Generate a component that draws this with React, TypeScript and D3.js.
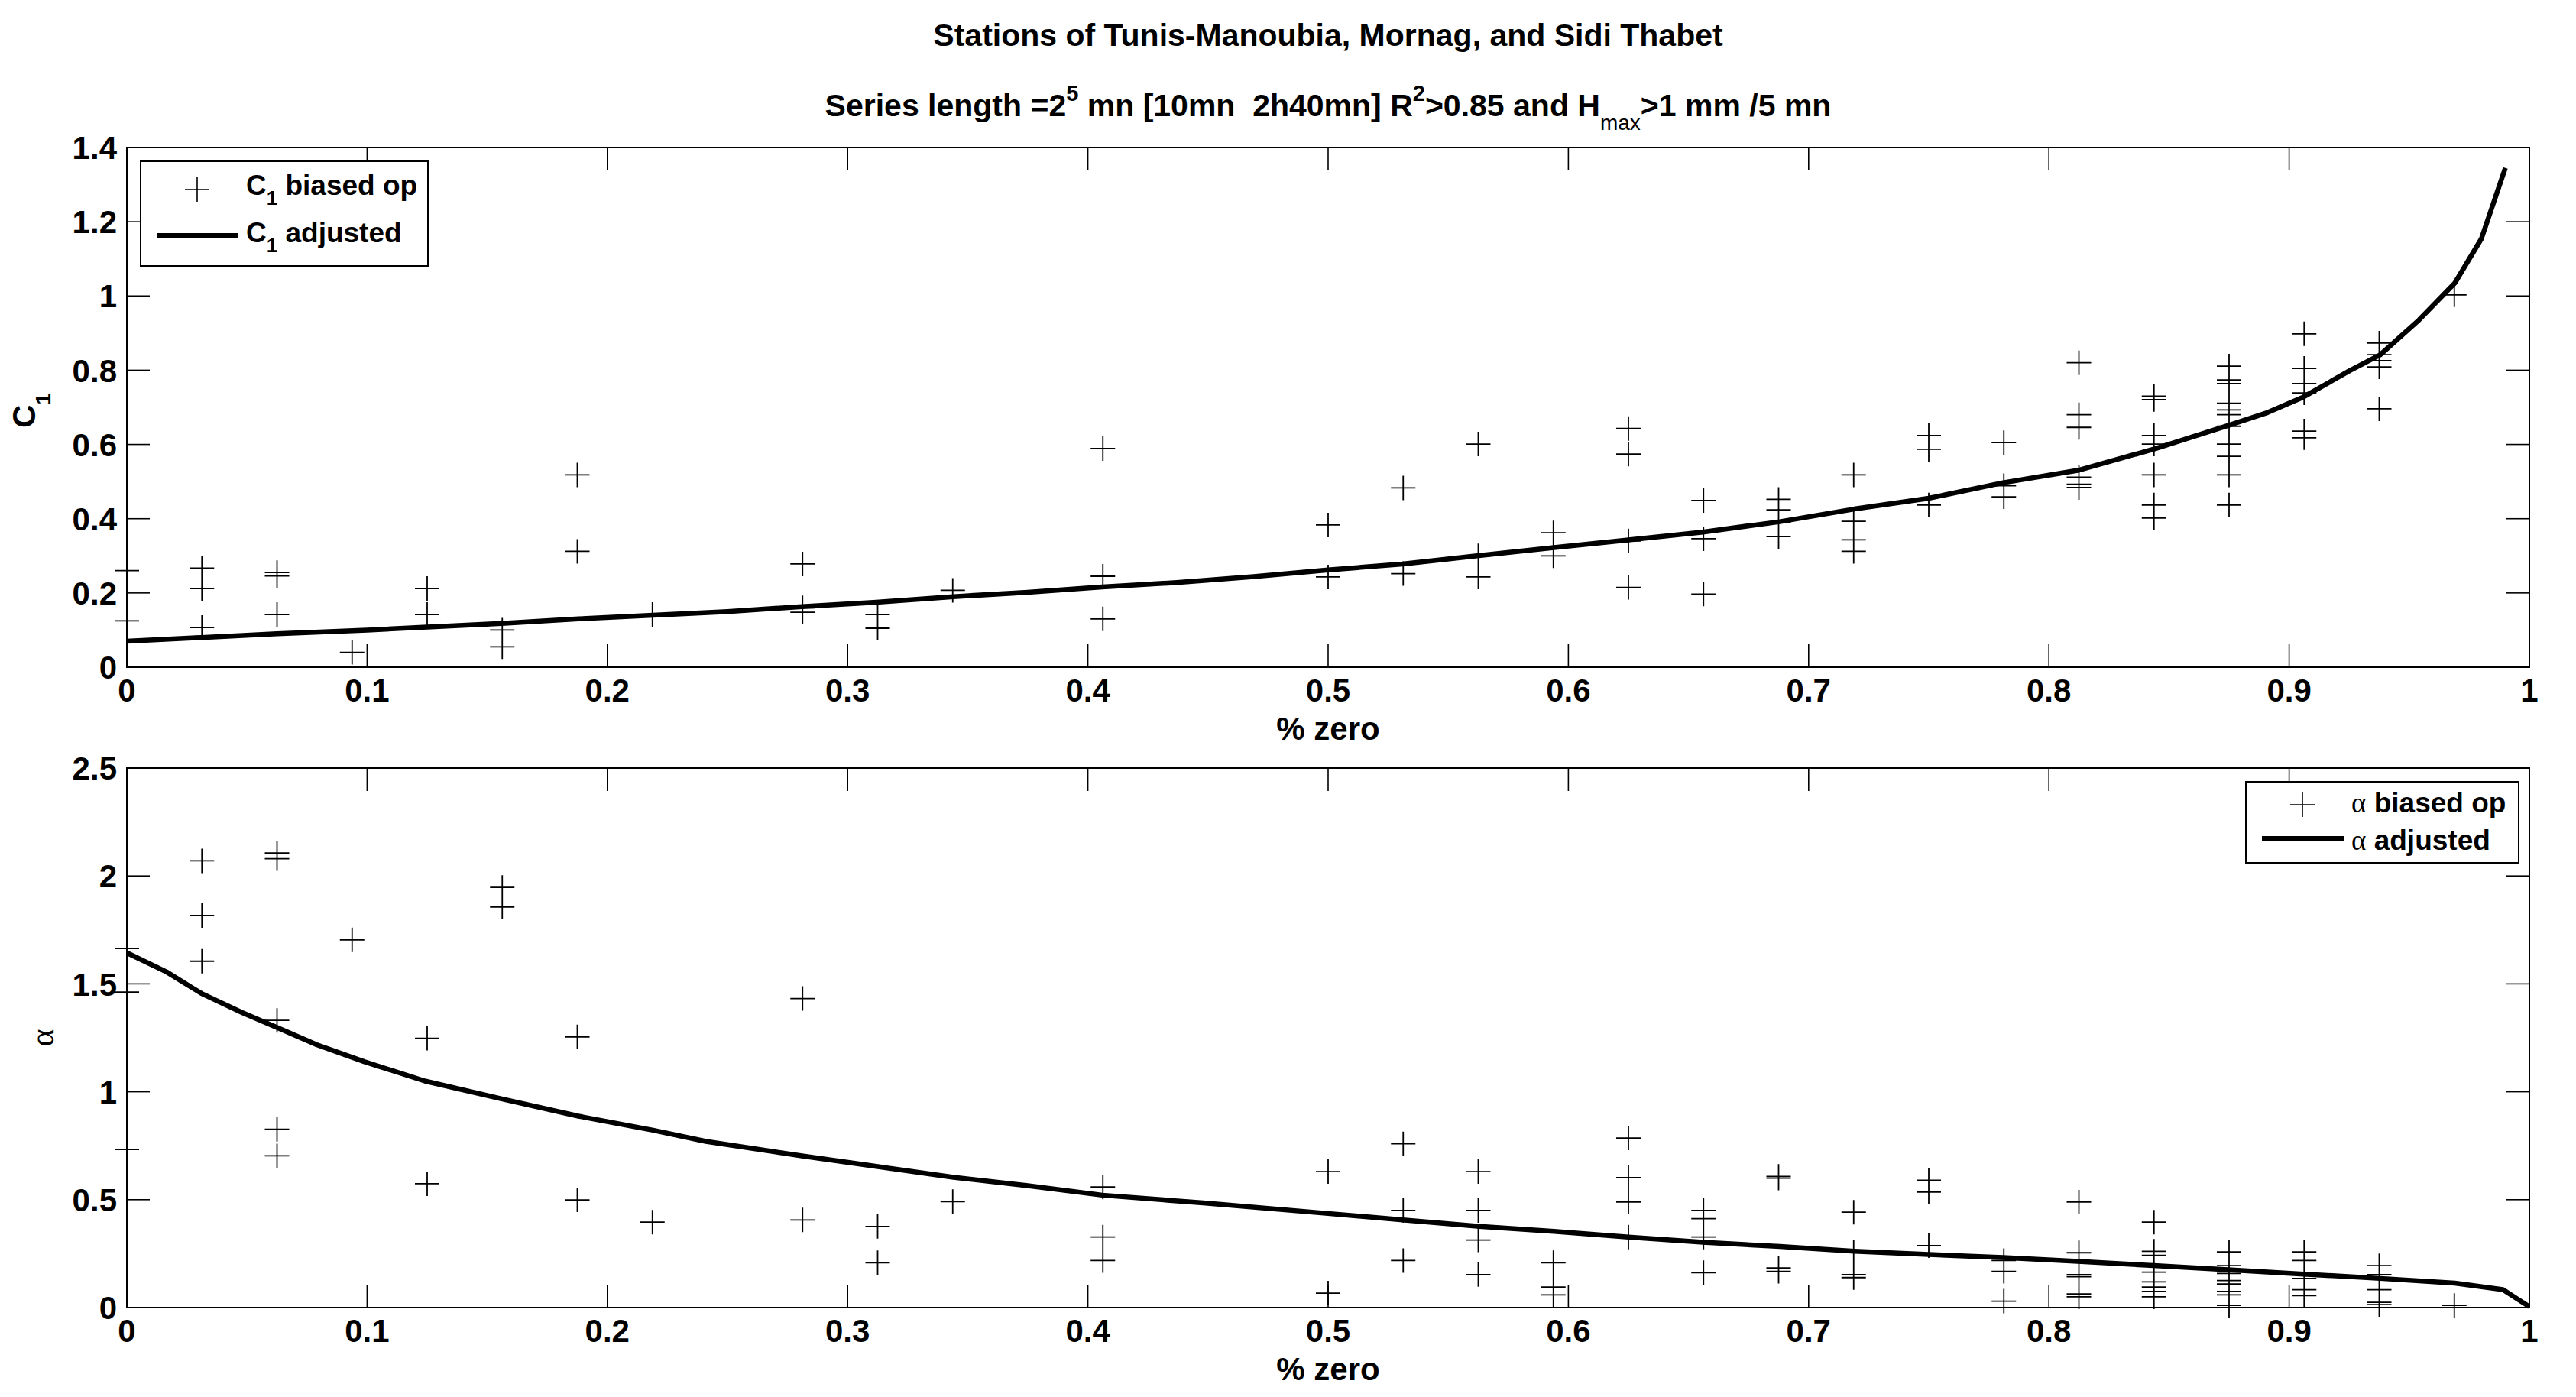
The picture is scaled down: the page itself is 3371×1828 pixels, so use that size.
import * as d3 from "d3";
import { useEffect } from "react";

// % zero classes (k / 32) that carry at least one event
const pctZero = [
  0, 0.03125, 0.0625, 0.09375, 0.125, 0.15625, 0.1875, 0.21875, 0.28125, 0.3125,
  0.34375, 0.40625, 0.5, 0.53125, 0.5625, 0.59375, 0.625, 0.65625, 0.6875, 0.71875,
  0.75, 0.78125, 0.8125, 0.84375, 0.875, 0.90625, 0.9375, 0.96875,
];

// C1 biased op values, one list per % zero class
const c1Biased = [
  [0.26, 0.125],
  [0.267, 0.212, 0.107],
  [0.255, 0.246, 0.142],
  [0.04],
  [0.212, 0.142],
  [0.1, 0.055],
  [0.518, 0.312],
  [0.142],
  [0.278, 0.16, 0.148],
  [0.142, 0.105],
  [0.207],
  [0.589, 0.245, 0.13],
  [0.383, 0.243],
  [0.483, 0.252],
  [0.601, 0.3, 0.243],
  [0.362, 0.3],
  [0.643, 0.574, 0.34, 0.215],
  [0.449, 0.346, 0.197],
  [0.452, 0.424, 0.39, 0.352],
  [0.518, 0.393, 0.343, 0.312],
  [0.624, 0.587, 0.437],
  [0.605, 0.489, 0.459],
  [0.82, 0.68, 0.646, 0.512, 0.493, 0.484],
  [0.73, 0.721, 0.624, 0.601, 0.518, 0.437, 0.402],
  [0.811, 0.774, 0.764, 0.711, 0.693, 0.68, 0.649, 0.601, 0.568, 0.518, 0.437],
  [0.898, 0.805, 0.764, 0.739, 0.636, 0.618],
  [0.873, 0.842, 0.826, 0.809, 0.696],
  [1.003],
];

// alpha biased op values, one list per % zero class
const alphaBiased = [
  [1.664, 1.462, 0.733],
  [2.07, 1.817, 1.605],
  [2.106, 2.08, 1.331, 0.826, 0.703],
  [1.704],
  [1.248, 0.574],
  [1.947, 1.856],
  [1.254, 0.499],
  [0.396],
  [1.432, 0.406],
  [0.376, 0.208],
  [0.491],
  [0.559, 0.327, 0.218],
  [0.63, 0.067],
  [0.759, 0.45, 0.218],
  [0.63, 0.45, 0.313, 0.153],
  [0.208, 0.095, 0.059],
  [0.786, 0.602, 0.489, 0.327],
  [0.45, 0.412, 0.327, 0.162],
  [0.608, 0.6, 0.184, 0.168],
  [0.442, 0.258, 0.153, 0.139],
  [0.59, 0.535, 0.287],
  [0.218, 0.168, 0.03],
  [0.489, 0.254, 0.153, 0.143, 0.063, 0.05],
  [0.396, 0.261, 0.242, 0.194, 0.164, 0.119, 0.095, 0.075, 0.05],
  [0.258, 0.194, 0.158, 0.125, 0.109, 0.075, 0.059, 0.01],
  [0.258, 0.218, 0.135, 0.083, 0.055],
  [0.194, 0.153, 0.083, 0.024, 0.014],
  [0.01],
];

// adjusted curves
const c1AdjX = [
  0, 0.031, 0.0625, 0.1, 0.125, 0.156, 0.188, 0.219, 0.25, 0.281, 0.312, 0.344, 0.375,
  0.406, 0.437, 0.469, 0.5, 0.531, 0.562, 0.594, 0.625, 0.656, 0.688, 0.719, 0.75,
  0.781, 0.812, 0.844, 0.875, 0.891, 0.906, 0.925, 0.938, 0.954, 0.969, 0.98, 0.99,
];
const c1AdjY = [
  0.07, 0.08, 0.09, 0.1, 0.108, 0.118, 0.13, 0.14, 0.15, 0.163, 0.175, 0.19, 0.202,
  0.216, 0.228, 0.244, 0.262, 0.278, 0.3, 0.322, 0.343, 0.364, 0.392, 0.426, 0.455,
  0.497, 0.53, 0.588, 0.652, 0.686, 0.728, 0.798, 0.842, 0.935, 1.035, 1.154, 1.345,
];
const alphaAdjX = [
  0, 0.0166, 0.031, 0.048, 0.0625, 0.079, 0.099, 0.124, 0.156, 0.188, 0.219, 0.241,
  0.281, 0.312, 0.344, 0.375, 0.406, 0.448, 0.5, 0.531, 0.563, 0.594, 0.625, 0.656,
  0.688, 0.719, 0.75, 0.781, 0.812, 0.845, 0.876, 0.906, 0.938, 0.969, 0.989, 1.0,
];
const alphaAdjY = [
  1.644, 1.555, 1.456, 1.367, 1.298, 1.218, 1.139, 1.05, 0.967, 0.887, 0.822, 0.77,
  0.703, 0.654, 0.604, 0.565, 0.521, 0.485, 0.436, 0.406, 0.376, 0.353, 0.327, 0.303,
  0.283, 0.261, 0.246, 0.232, 0.214, 0.194, 0.174, 0.155, 0.135, 0.113, 0.083, 0.004,
];

const xTicks = [0, 0.1, 0.2, 0.3, 0.4, 0.5, 0.6, 0.7, 0.8, 0.9, 1];
const c1Ticks = [0, 0.2, 0.4, 0.6, 0.8, 1, 1.2, 1.4];
const alphaTicks = [0, 0.5, 1, 1.5, 2, 2.5];

const W = 3371;
const H = 1828;
const LEFT = 166;
const RIGHT = 3310;
const FONT = "'Liberation Sans', Arial, Helvetica, sans-serif";
const SYMBOL = "'Liberation Serif', 'Times New Roman', serif";
const TICK = 30;
const MS = 16; // half size of the "+" marker

const x = d3.scaleLinear().domain([0, 1]).range([LEFT, RIGHT]);

function plus(px: number, py: number) {
  return `M${px - MS},${py}h${MS * 2}M${px},${py - MS}v${MS * 2}`;
}

function Panel({
  y,
  yTicks,
  biased,
  adjX,
  adjY,
}: {
  y: d3.ScaleLinear<number, number>;
  yTicks: number[];
  biased: number[][];
  adjX: number[];
  adjY: number[];
}) {
  const [bottom, top] = y.range();
  const line = d3
    .line<number>()
    .x((_d, i) => x(adjX[i]))
    .y((d) => y(d));
  const markers = pctZero
    .flatMap((pz, i) => biased[i].map((v) => plus(x(pz), y(v))))
    .join("");
  const fmt = (v: number) => String(v);
  return (
    <g>
      {/* ticks on all four sides, pointing inward */}
      <g stroke="#000" strokeWidth={1.6}>
        {xTicks.map((t) => (
          <g key={"x" + t}>
            <line x1={x(t)} x2={x(t)} y1={bottom} y2={bottom - TICK} />
            <line x1={x(t)} x2={x(t)} y1={top} y2={top + TICK} />
          </g>
        ))}
        {yTicks.map((t) => (
          <g key={"y" + t}>
            <line x1={LEFT} x2={LEFT + TICK} y1={y(t)} y2={y(t)} />
            <line x1={RIGHT} x2={RIGHT - TICK} y1={y(t)} y2={y(t)} />
          </g>
        ))}
      </g>
      <rect
        x={LEFT}
        y={top}
        width={RIGHT - LEFT}
        height={bottom - top}
        fill="none"
        stroke="#000"
        strokeWidth={2}
      />
      <g fontFamily={FONT} fontWeight="bold" fontSize={42} fill="#000">
        {xTicks.map((t) => (
          <text key={"xl" + t} x={x(t)} y={bottom + 45} textAnchor="middle">
            {fmt(t)}
          </text>
        ))}
        {yTicks.map((t) => (
          <text key={"yl" + t} x={LEFT - 13} y={y(t)} dy="0.36em" textAnchor="end">
            {fmt(t)}
          </text>
        ))}
        <text x={(LEFT + RIGHT) / 2} y={bottom + 95} textAnchor="middle">
          % zero
        </text>
      </g>
      <path d={markers} stroke="#000" strokeWidth={1.8} fill="none" />
      <path
        d={line(adjY) ?? ""}
        stroke="#000"
        strokeWidth={6.5}
        fill="none"
        strokeLinejoin="round"
      />
    </g>
  );
}

export default function App() {
  useEffect(() => {
    document.body.style.margin = "0";
  }, []);

  const y1 = d3.scaleLinear().domain([0, 1.4]).range([873, 193]);
  const y2 = d3.scaleLinear().domain([0, 2.5]).range([1711, 1005]);
  const cx = (LEFT + RIGHT) / 2;

  return (
    <svg
      width={W}
      height={H}
      viewBox={`0 0 ${W} ${H}`}
      style={{ display: "block", background: "#fff" }}
    >
      <rect width={W} height={H} fill="#fff" />

      {/* titles */}
      <g fontFamily={FONT} fontWeight="bold" fontSize={41} fill="#000" textAnchor="middle">
        <text x={cx} y={60}>Stations of Tunis-Manoubia, Mornag, and Sidi Thabet</text>
        <text x={cx} y={152} style={{ whiteSpace: "pre" }}>
          Series length =2
          <tspan fontSize={29} dy={-20}>5</tspan>
          <tspan dy={20}> mn [10mn  2h40mn] R</tspan>
          <tspan fontSize={29} dy={-20}>2</tspan>
          <tspan dy={20}>{">0.85 and H"}</tspan>
          <tspan fontSize={28} fontWeight="normal" dy={18}>max</tspan>
          <tspan dy={-18}>{">1 mm /5 mn"}</tspan>
        </text>
      </g>

      <Panel y={y1} yTicks={c1Ticks} biased={c1Biased} adjX={c1AdjX} adjY={c1AdjY} />
      <Panel y={y2} yTicks={alphaTicks} biased={alphaBiased} adjX={alphaAdjX} adjY={alphaAdjY} />

      {/* y labels */}
      <text
        transform="translate(46,537) rotate(-90)"
        fontFamily={FONT}
        fontWeight="bold"
        fontSize={42}
        textAnchor="middle"
      >
        C<tspan fontSize={28} dy={20}>1</tspan>
      </text>
      <text
        transform="translate(70,1358) rotate(-90)"
        fontFamily={SYMBOL}
        fontSize={44}
        textAnchor="middle"
      >
        α
      </text>

      {/* legend, top panel */}
      <g>
        <rect x={184} y={211} width={376} height={137} fill="#fff" stroke="#000" strokeWidth={2} />
        <path d={plus(258, 248)} stroke="#000" strokeWidth={1.6} />
        <line x1={205} x2={312} y1={308} y2={308} stroke="#000" strokeWidth={6} />
        <g fontFamily={FONT} fontWeight="bold" fontSize={37}>
          <text x={322} y={255}>
            C<tspan fontSize={26} dy={13}>1</tspan>
            <tspan dy={-13}> biased op</tspan>
          </text>
          <text x={322} y={317}>
            C<tspan fontSize={26} dy={13}>1</tspan>
            <tspan dy={-13}> adjusted</tspan>
          </text>
        </g>
      </g>

      {/* legend, bottom panel */}
      <g>
        <rect x={2939} y={1023} width={357} height={106} fill="#fff" stroke="#000" strokeWidth={2} />
        <path d={plus(3013, 1053)} stroke="#000" strokeWidth={1.6} />
        <line x1={2960} x2={3067} y1={1097} y2={1097} stroke="#000" strokeWidth={6} />
        <g fontSize={37}>
          <text x={3077} y={1063}>
            <tspan fontFamily={SYMBOL}>α</tspan>
            <tspan fontFamily={FONT} fontWeight="bold"> biased op</tspan>
          </text>
          <text x={3077} y={1112}>
            <tspan fontFamily={SYMBOL}>α</tspan>
            <tspan fontFamily={FONT} fontWeight="bold"> adjusted</tspan>
          </text>
        </g>
      </g>
    </svg>
  );
}
